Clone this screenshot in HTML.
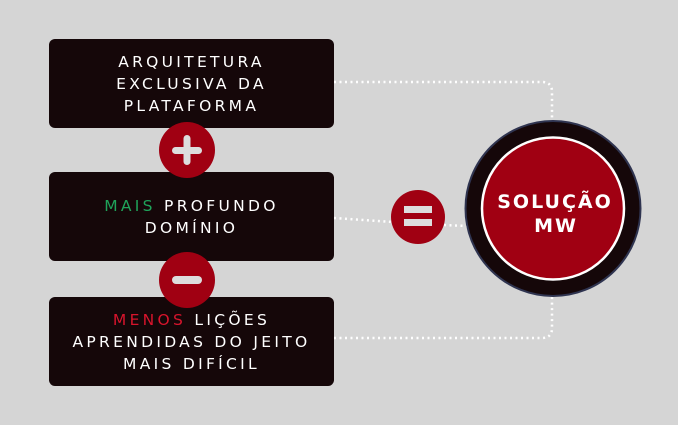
<!DOCTYPE html>
<html><head><meta charset="utf-8"><style>
html,body{margin:0;padding:0}
body{width:678px;height:425px;background:#d5d5d5;position:relative;overflow:hidden;font-family:"DejaVu Sans","Liberation Sans",sans-serif}
.box{position:absolute;left:49px;width:285px;height:89px;background:#150709;border-radius:6px;color:#fff;font-size:15.5px;letter-spacing:3.3px;text-align:center;line-height:22px;display:flex;align-items:center;justify-content:center;flex-direction:column}
.g{color:#1fa35a}.r{color:#d8142c}
svg{position:absolute;left:0;top:0}
</style></head><body>
<svg width="678" height="425">
<g fill="none" stroke="#fff" stroke-width="2.5" stroke-dasharray="2 3.5">
<path d="M334 82 H542 Q552 82 552 92 V124"/>
<path d="M334 338 H542 Q552 338 552 328 V294"/>
<path d="M334 218 L392 222"/>
<path d="M444 225 L467 226"/>
</g>
</svg>
<div class="box" style="top:39px"><div>ARQUITETURA</div><div>EXCLUSIVA DA</div><div>PLATAFORMA</div></div>
<div class="box" style="top:172px"><div><span class="g">MAIS</span> PROFUNDO</div><div>DOMÍNIO</div></div>
<div class="box" style="top:297px"><div><span class="r">MENOS</span> LIÇÕES</div><div>APRENDIDAS DO JEITO</div><div>MAIS DIFÍCIL</div></div>
<svg width="678" height="425">
<circle cx="187" cy="150" r="28" fill="#a00012"/>
<rect x="172" y="147" width="30" height="7" rx="3.5" fill="#ddd"/>
<rect x="183.5" y="135" width="7" height="30" rx="3.5" fill="#ddd"/>
<circle cx="187" cy="280" r="28" fill="#a00012"/>
<rect x="172" y="276" width="30" height="8" rx="4" fill="#ddd"/>
<circle cx="418" cy="217" r="27" fill="#a00012"/>
<rect x="404" y="206" width="28" height="7" fill="#ddd"/>
<rect x="404" y="219" width="28" height="7" fill="#ddd"/>
<circle cx="553" cy="208.5" r="87.5" fill="#150709" stroke="#2f3450" stroke-width="2"/>
<circle cx="553" cy="208.5" r="71" fill="#a00012" stroke="#fff" stroke-width="2.5"/>
<text x="555" y="208" text-anchor="middle" fill="#fff" font-family="DejaVu Sans, Liberation Sans, sans-serif" font-weight="bold" font-size="19" letter-spacing="2">SOLUÇÃO</text>
<text x="556" y="232" text-anchor="middle" fill="#fff" font-family="DejaVu Sans, Liberation Sans, sans-serif" font-weight="bold" font-size="19" letter-spacing="2">MW</text>
</svg>
</body></html>
